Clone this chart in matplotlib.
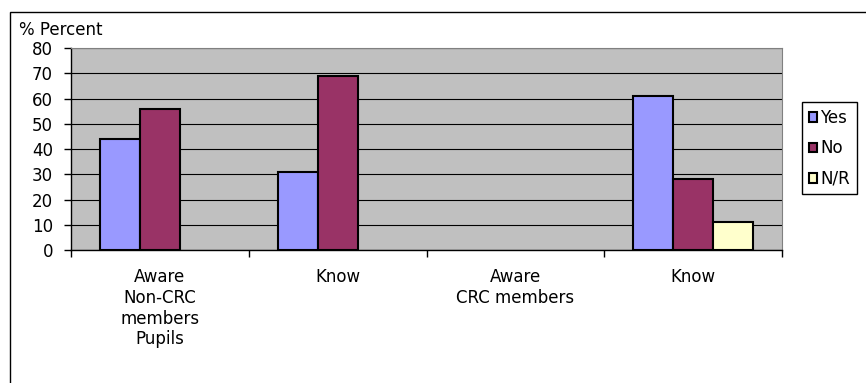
import numpy as np
import matplotlib
matplotlib.use("Agg")
import matplotlib.pyplot as plt
from matplotlib.patches import Patch, Rectangle

# survey answers, % of respondents per question and group
categories = ["Aware\nNon-CRC\nmembers\nPupils", "Know", "Aware\nCRC members", "Know"]
series_names = ["Yes", "No", "N/R"]
yes_vals = [44, 31, 0, 61]
no_vals = [56, 69, 0, 28]
nr_vals = [0, 0, 0, 11]
colors = ["#9999FF", "#993366", "#FFFFCC"]

W, H = 866, 383
fig = plt.figure(figsize=(W / 100, H / 100), dpi=100)
plt.rcParams["font.family"] = "DejaVu Sans"

# outer chart frame (runs off the right and bottom)
fig.patches.append(Rectangle((10 / W, -0.1), 1.2, 1 - 12 / H + 0.1,
                             transform=fig.transFigure, fill=False,
                             edgecolor="black", linewidth=1.0))

ax = fig.add_axes([71 / W, 1 - 250 / H, (782 - 71) / W, (250 - 48) / H])
ax.set_facecolor("#C0C0C0")

x = np.arange(len(categories))
width = 0.225
for j, (vals, col) in enumerate(zip([yes_vals, no_vals, nr_vals], colors)):
    vals = np.array(vals, dtype=float)
    keep = vals > 0
    ax.bar(x[keep] + (j - 1) * width, vals[keep], width=width, color=col,
           edgecolor="black", linewidth=1.5, zorder=3)

ax.set_xlim(-0.5, len(categories) - 0.5)
ax.set_ylim(0, 80)
ax.set_yticks(range(0, 81, 10))
ax.yaxis.grid(True, color="black", linewidth=0.8, zorder=1)
ax.set_axisbelow(True)

# category boundaries carry the tick marks, labels sit at the centres
ax.set_xticks(np.arange(-0.5, len(categories), 1.0))
ax.set_xticklabels([])
ax.set_xticks(x, minor=True)
ax.set_xticklabels(categories, minor=True, fontsize=12, linespacing=1.2,
                   va="top")
ax.tick_params(axis="x", which="minor", length=0, pad=13)
ax.tick_params(axis="x", which="major", length=5, width=1, direction="out")
ax.tick_params(axis="y", length=5, width=1, direction="out", labelsize=12, pad=8)

for side in ["top", "right"]:
    ax.spines[side].set_color("#808080")
for side in ["left", "bottom"]:
    ax.spines[side].set_color("black")
    ax.spines[side].set_linewidth(1.0)

fig.text(19 / W, 1 - 30 / H, "% Percent", fontsize=12, va="center", ha="left")

handles = [Patch(facecolor=c, edgecolor="black", linewidth=1.5) for c in colors]
fig.legend(handles, series_names, loc="upper left",
           bbox_to_anchor=(802 / W, 1 - 102 / H), fontsize=12,
           frameon=True, fancybox=False, edgecolor="black", framealpha=1,
           handlelength=0.5, handleheight=0.5, handletextpad=0.2,
           labelspacing=0.75, borderpad=0.4, borderaxespad=0)

fig.savefig("out.png", dpi=100)
